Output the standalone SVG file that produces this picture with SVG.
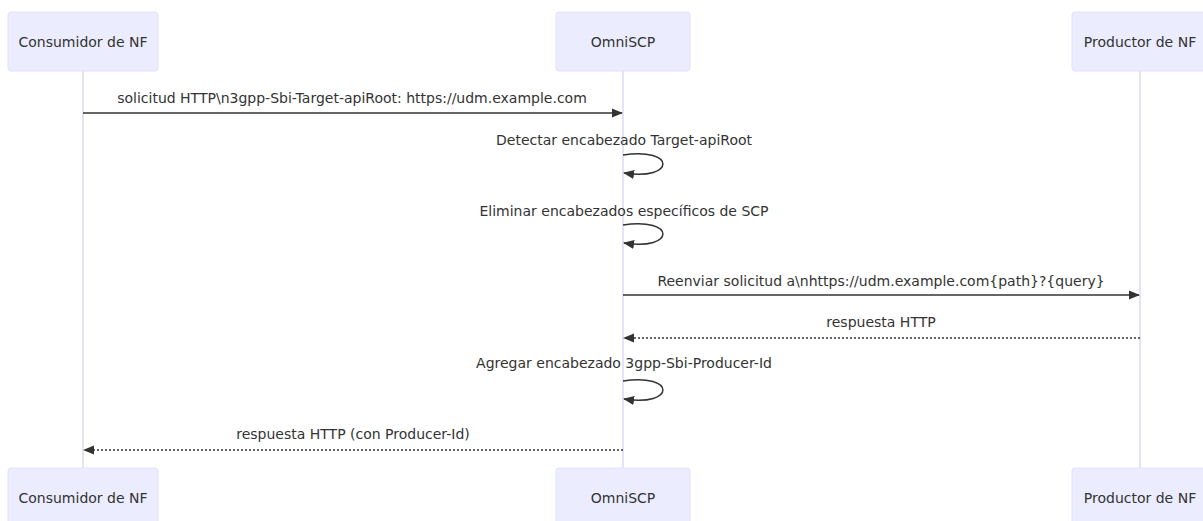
<svg xmlns="http://www.w3.org/2000/svg" width="1203" height="521" viewBox="0 0 1203 521">
<style>
.actor{fill:#ececff;stroke:#e3e0f8;stroke-width:1}
.atext{font-family:"DejaVu Sans",Verdana,sans-serif;font-size:14px;fill:#333;text-anchor:middle;dominant-baseline:central}
.life{stroke:#ddd8f5;stroke-width:1.5}
.msg{stroke:#333;stroke-width:1.5;fill:none}
.dash{stroke-dasharray:2,2}
.mtext{font-family:"DejaVu Sans",Verdana,sans-serif;font-size:14px;fill:#333;text-anchor:middle}
</style>
<defs>
<marker id="ah" viewBox="0 0 12 12" refX="11" refY="6" markerWidth="11" markerHeight="11" markerUnits="userSpaceOnUse" orient="auto">
<path d="M0,1 L12,6 L0,11 z" fill="#333"/>
</marker>
</defs>
<rect width="1203" height="521" fill="#fff"/>
<g id="lifelines">
<line class="life" x1="83" y1="71" x2="83" y2="468"/>
<line class="life" x1="623" y1="71" x2="623" y2="468"/>
<line class="life" x1="1140" y1="71" x2="1140" y2="468"/>
</g>
<g id="actor-consumidor">
<rect class="actor" x="8" y="12" width="150" height="59" rx="3"/>
<text class="atext" x="83" y="42">Consumidor de NF</text>
<rect class="actor" x="8" y="468" width="150" height="59" rx="3"/>
<text class="atext" x="83" y="498">Consumidor de NF</text>
</g>
<g id="actor-omniscp">
<rect class="actor" x="556" y="12" width="134" height="59" rx="3"/>
<text class="atext" x="623" y="42">OmniSCP</text>
<rect class="actor" x="556" y="468" width="134" height="59" rx="3"/>
<text class="atext" x="623" y="498">OmniSCP</text>
</g>
<g id="actor-productor">
<rect class="actor" x="1072" y="12" width="136" height="59" rx="3"/>
<text class="atext" x="1140" y="42">Productor de NF</text>
<rect class="actor" x="1072" y="468" width="136" height="59" rx="3"/>
<text class="atext" x="1140" y="498">Productor de NF</text>
</g>
<g id="connectors">
<line class="msg" x1="83" y1="113" x2="622" y2="113" marker-end="url(#ah)"/>
<path class="msg" d="M623,155 C676,147 676,181 624,173" marker-end="url(#ah)"/>
<path class="msg" d="M623,225 C676,217 676,251 624,243" marker-end="url(#ah)"/>
<line class="msg" x1="623" y1="295" x2="1139" y2="295" marker-end="url(#ah)"/>
<line class="msg dash" x1="1140" y1="338" x2="624" y2="338" marker-end="url(#ah)"/>
<path class="msg" d="M623,381 C676,373 676,407 624,399" marker-end="url(#ah)"/>
<line class="msg dash" x1="623" y1="450" x2="84" y2="450" marker-end="url(#ah)"/>
</g>
<g id="labels">
<text class="mtext" x="352" y="103">solicitud HTTP\n3gpp-Sbi-Target-apiRoot: https://udm.example.com</text>
<text class="mtext" x="624" y="145">Detectar encabezado Target-apiRoot</text>
<text class="mtext" x="624" y="216">Eliminar encabezados específicos de SCP</text>
<text class="mtext" x="881" y="286">Reenviar solicitud a\nhttps://udm.example.com{path}?{query}</text>
<text class="mtext" x="881" y="327">respuesta HTTP</text>
<text class="mtext" x="624" y="368">Agregar encabezado 3gpp-Sbi-Producer-Id</text>
<text class="mtext" x="353" y="439">respuesta HTTP (con Producer-Id)</text>
</g>
</svg>
